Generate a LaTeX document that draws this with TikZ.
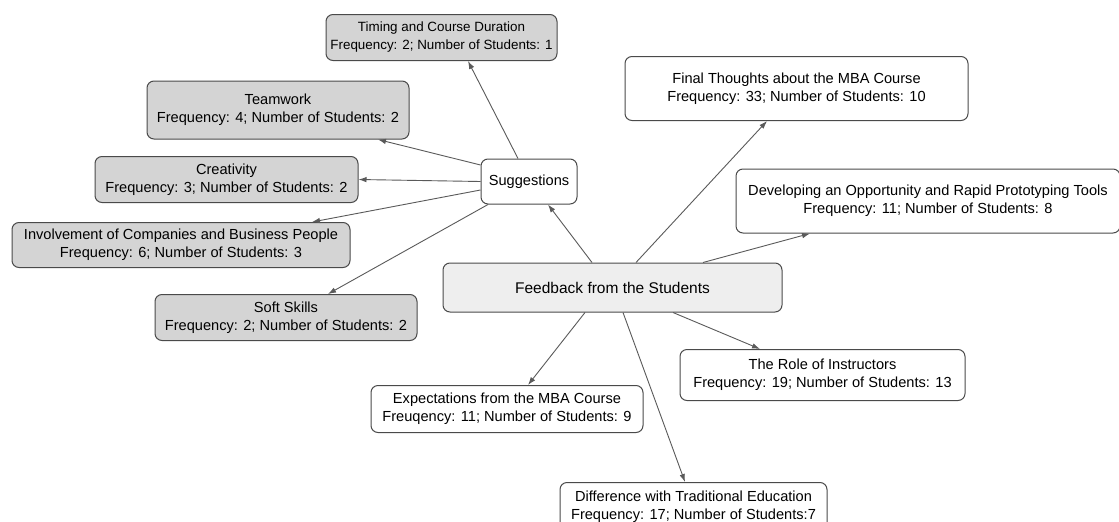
\documentclass[tikz,border=0pt]{standalone}
\usepackage{fontspec}
\setmainfont{Liberation Sans}
\usetikzlibrary{arrows.meta}
\definecolor{subfill}{HTML}{D4D4D4}
\definecolor{rootfill}{HTML}{EEEEEE}
\definecolor{boxline}{HTML}{4A4A4A}
\definecolor{linkcol}{HTML}{5A5A5A}
\begin{document}
\begin{tikzpicture}[x=1pt,y=-1pt,
  box/.style={draw=boxline, line width=1pt, rounded corners=7pt, align=center,
    inner sep=0pt, font=\fontsize{14.6}{18}\selectfont, text=black},
  sz/.style 2 args={minimum width=#1pt, minimum height=#2pt},
  sub/.style={box, fill=subfill},
  leaf/.style={box, fill=white},
  root/.style={box, fill=rootfill},
  link/.style={draw=linkcol, line width=0.9pt, -{Latex[length=8pt,width=5.5pt]}},
]
\clip (0,0) rectangle (1119,522);
\fill[white] (0,0) rectangle (1119,522);

% central theme
\node[root, sz={339}{49}, font=\fontsize{15.5}{18}\selectfont] (fb) at (612.5,287.5) {Feedback from the Students};

% suggestions branch
\node[leaf, sz={96}{45}] (sugg) at (529,181.5) {Suggestions};
\node[sub, sz={231}{46}, font=\fontsize{13.4}{18}\selectfont] (time) at (441.5,37.5) {Timing and Course Duration\\Frequency: 2; Number of Students: 1};
\node[sub, sz={262}{58}] (team) at (278,110) {Teamwork\\Frequency: 4; Number of Students: 2};
\node[sub, sz={263}{46}] (crea) at (226.5,179.5) {Creativity\\Frequency: 3; Number of Students: 2};
\node[sub, sz={338}{45}] (inv) at (181,245) {Involvement of Companies and Business People\\Frequency: 6; Number of Students: 3};
\node[sub, sz={262}{46}] (soft) at (286,317.5) {Soft Skills\\Frequency: 2; Number of Students: 2};

% other themes
\node[leaf, sz={343}{64}] (fin) at (796.5,88.5) {Final Thoughts about the MBA Course\\Frequency: 33; Number of Students: 10};
\node[leaf, sz={384}{64}] (dev) at (928,201) {Developing an Opportunity and Rapid Prototyping Tools\\Frequency: 11; Number of Students: 8};
\node[leaf, sz={285}{51}] (role) at (822.5,375) {The Role of Instructors\\Frequency: 19; Number of Students: 13};
\node[leaf, sz={272}{47}] (exp) at (507,409) {Expectations from the MBA Course\\Freuqency: 11; Number of Students: 9};
\node[leaf, sz={267}{48}] (diff) at (693.5,506.5) {Difference with Traditional Education\\Frequency: 17; Number of Students:7};

% connectors from the central theme
\draw[link] ([xshift=-20.5pt]fb.north) -- ([xshift=19pt]sugg.south);
\draw[link] ([xshift=23.5pt]fb.north) -- ([xshift=-29.5pt]fin.south);
\draw[link] ([xshift=90.5pt]fb.north) -- ([xshift=-118pt]dev.south);
\draw[link] ([xshift=60.5pt]fb.south) -- ([xshift=-62.5pt]role.north);
\draw[link] ([xshift=-27.5pt]fb.south) -- ([xshift=21pt]exp.north);
\draw[link] ([xshift=10.5pt]fb.south) -- ([xshift=-8.5pt]diff.north);

% connectors from suggestions
\draw[link] ([xshift=-11pt]sugg.north) -- ([xshift=26.5pt]time.south);
\draw[link] ([yshift=16.5pt]sugg.west) -- ([xshift=100pt]team.south);
\draw[link] (sugg.west) -- (crea.east);
\draw[link] ([yshift=-8.5pt]sugg.west) -- ([xshift=131pt]inv.north);
\draw[link] ([xshift=-41pt]sugg.south) -- ([xshift=42pt]soft.north);
\end{tikzpicture}
\end{document}
